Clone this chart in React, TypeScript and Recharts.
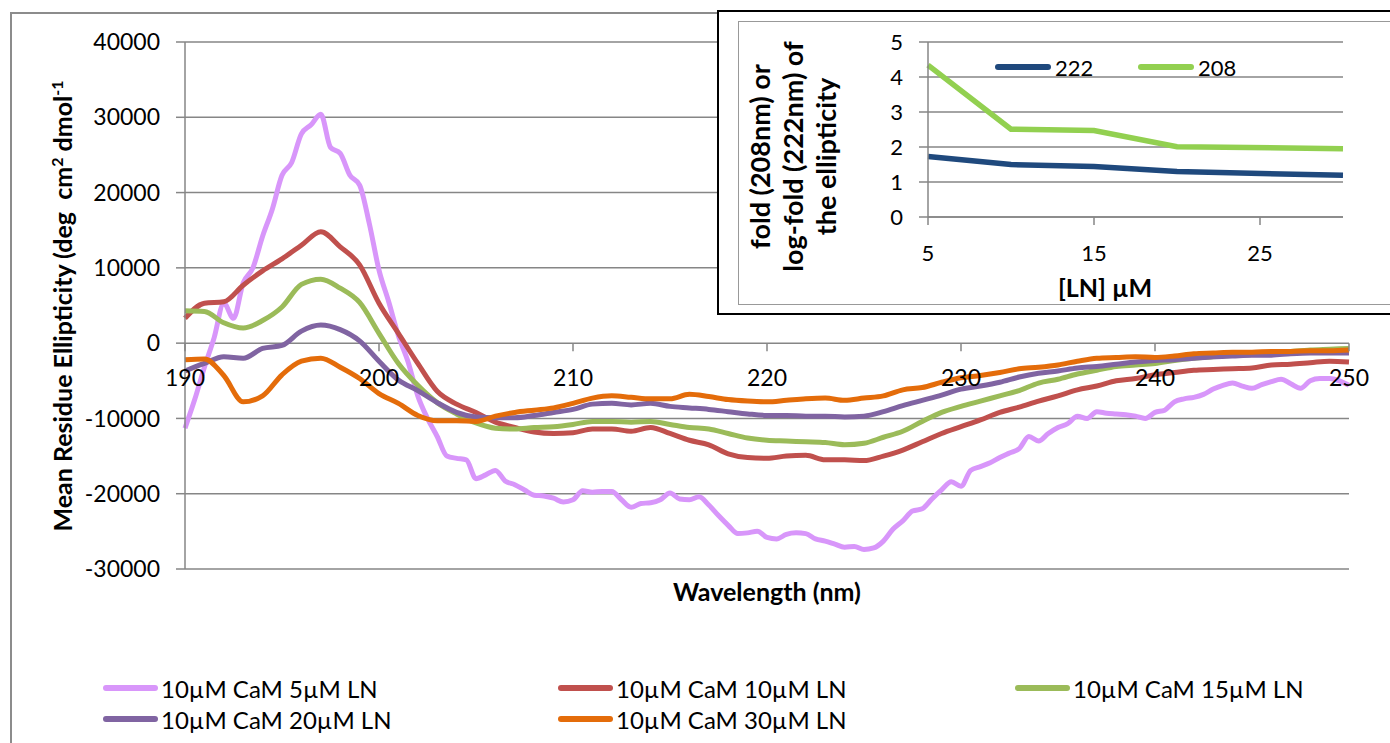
import React from "react";
import { LineChart, Line, XAxis, YAxis, CartesianGrid } from "recharts";

// wavelength grids (nm)
const wavelengthsFine = [
  190, 190.5, 191, 191.5, 192, 192.5, 193, 193.5, 194, 194.5, 195, 195.5, 196, 196.5, 197, 197.5, 198, 198.5, 199, 199.5,
  200, 200.5, 201, 201.5, 202, 202.5, 203, 203.5, 204, 204.5, 205, 205.5, 206, 206.5, 207, 207.5, 208, 208.5, 209, 209.5,
  210, 210.5, 211, 211.5, 212, 212.5, 213, 213.5, 214, 214.5, 215, 215.5, 216, 216.5, 217, 217.5, 218, 218.5, 219, 219.5,
  220, 220.5, 221, 221.5, 222, 222.5, 223, 223.5, 224, 224.5, 225, 225.5, 226, 226.5, 227, 227.5, 228, 228.5, 229, 229.5,
  230, 230.5, 231, 231.5, 232, 232.5, 233, 233.5, 234, 234.5, 235, 235.5, 236, 236.5, 237, 237.5, 238, 238.5, 239, 239.5,
  240, 240.5, 241, 241.5, 242, 242.5, 243, 243.5, 244, 244.5, 245, 245.5, 246, 246.5, 247, 247.5, 248, 248.5, 249, 249.5,
  250,
];
const wavelengths = [
  190, 191, 192, 193, 194, 195, 196, 197, 198, 199, 200, 201, 202, 203, 204, 205, 206, 207, 208, 209,
  210, 211, 212, 213, 214, 215, 216, 217, 218, 219, 220, 221, 222, 223, 224, 225, 226, 227, 228, 229,
  230, 231, 232, 233, 234, 235, 236, 237, 238, 239, 240, 241, 242, 243, 244, 245, 246, 247, 248, 249,
  250,
];

// mean residue ellipticity, 0.5 nm steps
const cam5LN = [
  -11300, -7500, -3200, 700, 5300, 3300, 8000, 10000, 14200, 17800, 22300, 24000, 27800, 29000, 30400, 26000, 25200, 22300, 21000, 15900,
  9700, 5500, 1000, -2500, -7000, -10000, -12400, -15000, -15300, -15500, -18000, -17500, -16900, -18300, -18800, -19500, -20200, -20300, -20600, -21100,
  -20800, -19600, -19800, -19700, -19700, -20800, -21800, -21300, -21200, -20800, -19900, -20700, -20800, -20400, -21500, -22900, -24200, -25300, -25200, -25000,
  -25800, -26000, -25400, -25200, -25300, -26000, -26300, -26700, -27100, -27000, -27400, -27200, -26300, -24700, -23600, -22300, -22000, -20700, -19500, -18400,
  -19000, -16900, -16400, -15900, -15200, -14600, -14000, -12400, -13000, -12000, -11200, -10700, -9700, -10000, -9100, -9300, -9400, -9500, -9700, -10000,
  -9200, -8900, -7800, -7400, -7200, -6800, -6100, -5600, -5300, -5700, -6000, -5500, -5100, -4800, -5400, -6000, -5000, -4700, -4700, -5000,
  -5600,
];
// 1 nm steps
const cam10LN = [
  3300, 5300, 5500, 7700, 9600, 11200, 13000, 14800, 12800, 10400, 5300, 1300, -2700, -6400, -8100, -9200, -10500, -11200, -11800, -12000,
  -11900, -11400, -11400, -11700, -11200, -12000, -12900, -13500, -14700, -15200, -15300, -15000, -14900, -15500, -15500, -15600, -15000, -14200, -13100, -12000,
  -11100, -10200, -9200, -8500, -7700, -7000, -6200, -5700, -5000, -4700, -4200, -3900, -3600, -3500, -3400, -3300, -2900, -2800, -2600, -2400,
  -2500,
];
const cam15LN = [
  4300, 4200, 2700, 2000, 3000, 4800, 7800, 8500, 7300, 5400, 1300, -2700, -5600, -7900, -9400, -10600, -11300, -11400, -11200, -11100,
  -10800, -10400, -10400, -10500, -10400, -10800, -11200, -11400, -12000, -12600, -12900, -13000, -13100, -13200, -13500, -13300, -12500, -11700, -10400, -9200,
  -8400, -7700, -7000, -6300, -5300, -4800, -4100, -3600, -3100, -2900, -2700, -2300, -2000, -1800, -1600, -1500, -1300, -1100, -900, -800,
  -700,
];
const cam20LN = [
  -3700, -2700, -1800, -2000, -700, -300, 1600, 2400, 1800, 300, -2400, -4900, -6300, -7900, -9200, -9800, -9900, -9900, -9600, -9200,
  -8800, -8100, -8000, -8200, -8000, -8400, -8600, -8800, -9100, -9400, -9600, -9600, -9700, -9700, -9800, -9700, -9100, -8300, -7600, -6900,
  -6100, -5700, -5200, -4500, -4000, -3700, -3300, -3100, -2800, -2500, -2300, -2200, -2000, -1800, -1700, -1600, -1600, -1400, -1300, -1300,
  -1300,
];
const cam30LN = [
  -2200, -2100, -4300, -7800, -7000, -4200, -2400, -2000, -3200, -4700, -6700, -8000, -9600, -10300, -10300, -10400, -9700, -9200, -8900, -8600,
  -8000, -7300, -7000, -7200, -7400, -7400, -6800, -7100, -7500, -7700, -7800, -7600, -7400, -7300, -7600, -7300, -7000, -6200, -5900, -5200,
  -4600, -4300, -3900, -3400, -3200, -2900, -2400, -2000, -1900, -1800, -1900, -1700, -1400, -1300, -1200, -1200, -1100, -1100, -1000, -1000,
  -900,
];

const yTicks = [-30000, -20000, -10000, 0, 10000, 20000, 30000, 40000];
const xTicks = [190, 200, 210, 220, 230, 240, 250];

// inset
const lnConc = [5, 10, 15, 20, 30];
const fold222 = [1.73, 1.5, 1.44, 1.3, 1.19];
const fold208 = [4.34, 2.51, 2.47, 2.01, 1.95];
const insetYTicks = [0, 1, 2, 3, 4, 5];
const insetXTicks = [5, 15, 25];

const GRID = "#868686";
const Y_MIN = -30000;
const Y_MAX = 40000;
const PLOT_H = 527;

const toRows = (xs: number[], ys: number[]) => xs.map((wl, i) => ({ wl, v: ys[i] }));

const series = [
  { name: "10µM CaM 5µM LN", color: "#D896FA", data: toRows(wavelengthsFine, cam5LN) },
  { name: "10µM CaM 10µM LN", color: "#C0504D", data: toRows(wavelengths, cam10LN) },
  { name: "10µM CaM 15µM LN", color: "#9BBB59", data: toRows(wavelengths, cam15LN) },
  { name: "10µM CaM 20µM LN", color: "#8064A2", data: toRows(wavelengths, cam20LN) },
  { name: "10µM CaM 30µM LN", color: "#E46C0A", data: toRows(wavelengths, cam30LN) },
];

const insetSeries = [
  { name: "222", color: "#1F497D", data: lnConc.map((c, i) => ({ c, v: fold222[i] })) },
  { name: "208", color: "#92D050", data: lnConc.map((c, i) => ({ c, v: fold208[i] })) },
];

// x axis crosses at y = 0, so ticks are drawn up at the zero line
function WaveTick(props: any) {
  const { x, y, payload } = props;
  const zeroY = y - (PLOT_H * (0 - Y_MIN)) / (Y_MAX - Y_MIN);
  return (
    <g>
      <line x1={x} x2={x} y1={zeroY} y2={zeroY + 8} stroke={GRID} strokeWidth={1.5} />
      <text x={x} y={zeroY + 34} textAnchor="middle" dominantBaseline="central" fontSize={23} fill="#000">
        {payload.value}
      </text>
    </g>
  );
}

const abs = (left: number, top: number, extra: React.CSSProperties = {}): React.CSSProperties => ({
  position: "absolute",
  left,
  top,
  ...extra,
});

function LegendLine({ color, width = 55 }: { color: string; width?: number }) {
  return <span style={{ display: "inline-block", width, height: 6, borderRadius: 3, background: color }} />;
}

export default function App() {
  const legendCols = [103, 558, 1015];
  const legendRows = [688, 719];

  return (
    <div
      style={{
        position: "absolute",
        left: 0,
        top: 0,
        width: 1390,
        height: 743,
        overflow: "hidden",
        background: "#fff",
        fontFamily: "Lato, 'Open Sans', sans-serif",
        color: "#000",
      }}
    >
      <div style={abs(10, 12, { width: 1500, height: 900, border: "2px solid #8c8c8c", boxSizing: "border-box" })} />

      <div style={abs(0, 0)}>
        <LineChart width={1390} height={743} margin={{ top: 42, right: 41, bottom: 144, left: 125 }}>
          <CartesianGrid vertical={false} stroke={GRID} strokeWidth={1.5} />
          <XAxis
            type="number"
            dataKey="wl"
            domain={[190, 250]}
            ticks={xTicks}
            interval={0}
            height={30}
            axisLine={false}
            tickLine={false}
            tickSize={0}
            tickMargin={0}
            tick={(p: any) => <WaveTick {...p} />}
          />
          <YAxis
            type="number"
            domain={[Y_MIN, Y_MAX]}
            ticks={yTicks}
            interval={0}
            width={60}
            tickSize={9}
            tickMargin={16}
            axisLine={{ stroke: GRID, strokeWidth: 1.5 }}
            tickLine={{ stroke: GRID, strokeWidth: 1.5 }}
            tick={{ fill: "#000", fontSize: 23 }}
          />
          {series.map((s) => (
            <Line
              key={s.name}
              data={s.data}
              dataKey="v"
              name={s.name}
              type="monotone"
              stroke={s.color}
              strokeWidth={5}
              dot={false}
              isAnimationActive={false}
            />
          ))}
        </LineChart>
      </div>

      <div
        style={abs(-238, 291, {
          width: 600,
          height: 30,
          lineHeight: "30px",
          textAlign: "center",
          fontWeight: 700,
          fontSize: 25,
          whiteSpace: "pre",
          transform: "rotate(-90deg)",
        })}
      >
        Mean Residue Ellipticity (deg  cm<sup style={{ fontSize: 16, lineHeight: 0 }}>2</sup> dmol
        <sup style={{ fontSize: 16, lineHeight: 0 }}>-1</sup>
      </div>
      <div style={abs(567, 576, { width: 400, height: 30, lineHeight: "30px", textAlign: "center", fontWeight: 700, fontSize: 25 })}>
        Wavelength (nm)
      </div>

      {series.map((s, i) => (
        <div
          key={s.name}
          style={abs(legendCols[i % 3], legendRows[Math.floor(i / 3)] - 15, {
            height: 30,
            display: "flex",
            alignItems: "center",
            gap: 3,
            fontSize: 24,
            whiteSpace: "nowrap",
          })}
        >
          <LegendLine color={s.color} />
          <span>{s.name}</span>
        </div>
      ))}

      {/* inset */}
      <div style={abs(717, 10, { width: 720, height: 305, border: "2px solid #000", boxSizing: "border-box", background: "#fff" })} />
      <div style={abs(738, 21, { width: 720, height: 284, border: "1.5px solid #999", boxSizing: "border-box" })} />
      <div style={abs(718, 11)}>
        <LineChart width={672} height={303} margin={{ top: 31, right: 47, bottom: 57, left: 150 }}>
          <CartesianGrid vertical={false} stroke={GRID} strokeWidth={1.5} />
          <XAxis
            type="number"
            dataKey="c"
            domain={[5, 30]}
            ticks={insetXTicks}
            interval={0}
            height={40}
            tickSize={8}
            tickMargin={20}
            axisLine={{ stroke: GRID, strokeWidth: 1.5 }}
            tickLine={{ stroke: GRID, strokeWidth: 1.5 }}
            tick={{ fill: "#000", fontSize: 22 }}
          />
          <YAxis
            type="number"
            domain={[0, 5]}
            ticks={insetYTicks}
            interval={0}
            width={60}
            tickSize={9}
            tickMargin={16}
            axisLine={{ stroke: GRID, strokeWidth: 1.5 }}
            tickLine={{ stroke: GRID, strokeWidth: 1.5 }}
            tick={{ fill: "#000", fontSize: 22 }}
          />
          {insetSeries.map((s) => (
            <Line
              key={s.name}
              data={s.data}
              dataKey="v"
              name={s.name}
              type="linear"
              stroke={s.color}
              strokeWidth={5.5}
              dot={false}
              isAnimationActive={false}
            />
          ))}
        </LineChart>
      </div>
      <div
        style={abs(662, 107, {
          width: 260,
          height: 99,
          lineHeight: "33px",
          textAlign: "center",
          fontWeight: 700,
          fontSize: 27,
          whiteSpace: "nowrap",
          transform: "rotate(-90deg)",
        })}
      >
        fold (208nm) or
        <br />
        log-fold (222nm) of
        <br />
        the ellipticity
      </div>
      <div style={abs(1005, 272, { width: 200, height: 30, lineHeight: "30px", textAlign: "center", fontWeight: 700, fontSize: 25 })}>
        [LN] µM
      </div>
      {insetSeries.map((s, i) => (
        <div
          key={s.name}
          style={abs([995, 1138][i], 52, { height: 30, display: "flex", alignItems: "center", gap: 4, fontSize: 22 })}
        >
          <LegendLine color={s.color} width={56} />
          <span>{s.name}</span>
        </div>
      ))}
    </div>
  );
}
